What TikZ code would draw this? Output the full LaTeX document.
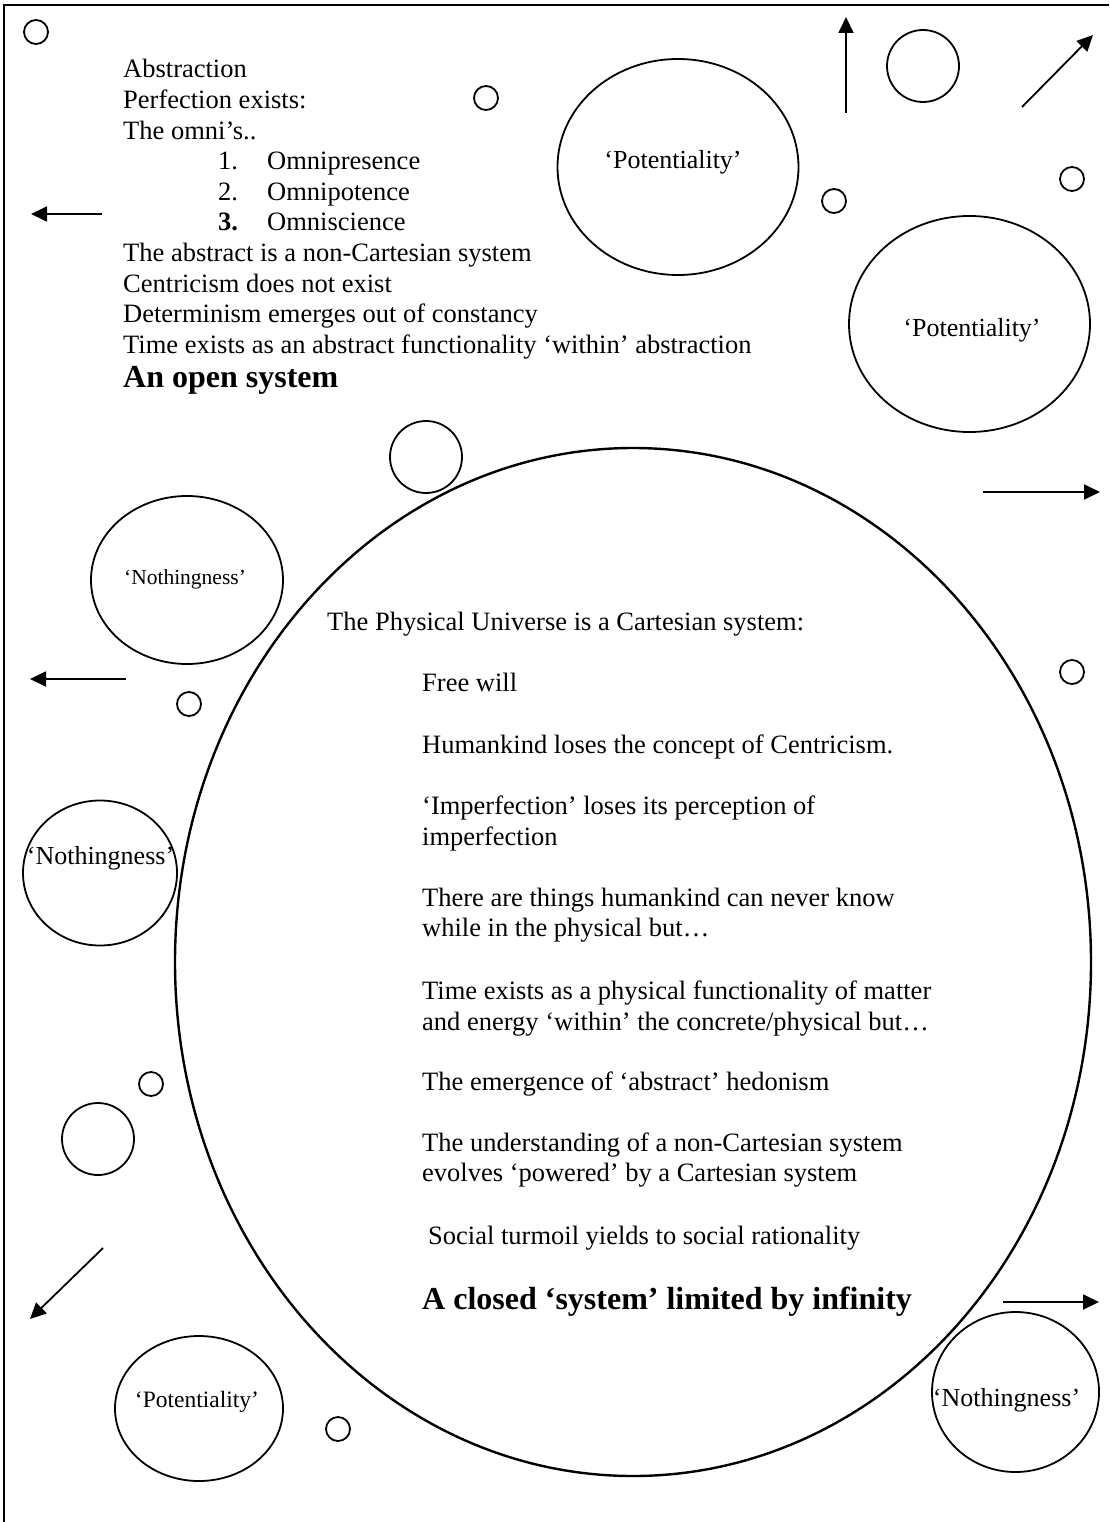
\documentclass[tikz,border=0pt]{standalone}
\usepackage{fontspec}
\setmainfont{Liberation Serif}
\usetikzlibrary{shapes.geometric,arrows.meta}
\begin{document}
\begin{tikzpicture}[x=1pt,y=-1pt,
  oval/.style={draw, ellipse, line width=1.8pt, inner sep=0pt},
  dot/.style={draw, circle, line width=1.8pt, minimum size=24pt, inner sep=0pt},
  bigdot/.style={dot, minimum size=72pt},
  arr/.style={line width=1.8pt, -{Triangle[length=16pt,width=15pt]}},
  txt/.style={anchor=base west, inner sep=0pt, font=\fontsize{26.5}{30.6}\selectfont},
  btxt/.style={anchor=base west, inner sep=0pt, font=\fontsize{32}{36}\selectfont\bfseries},
  lbl/.style={inner sep=0pt}
]
\useasboundingbox (0,0) rectangle (1109,1522);
\fill[white] (0,0) rectangle (1109,1522);
% frame
\draw[line width=2.2pt] (4,1522) -- (4,5) -- (1109,5);

% top-left text block
\node[txt] (t1) at (123,78) {Abstraction};
\node[txt] (t2) at (123,108.6) {Perfection exists:};
\node[txt] (t3) at (123,139.2) {The omni’s..};
\node[txt] (t4n) at (218,169.8) {1.};
\node[txt] (t4) at (267,169.8) {Omnipresence};
\node[txt] (t5n) at (218,200.4) {2.};
\node[txt] (t5) at (267,200.4) {Omnipotence};
\node[txt] (t6n) at (218,231) {\bfseries 3.};
\node[txt] (t6) at (267,231) {Omniscience};
\node[txt] (t7) at (123,261.6) {The abstract is a non-Cartesian system};
\node[txt] (t8) at (123,292.2) {Centricism does not exist};
\node[txt] (t9) at (123,322.8) {Determinism emerges out of constancy};
\node[txt] (t10) at (123,353.4) {Time exists as an abstract functionality ‘within’ abstraction};
\node[btxt] (t11) at (123,387) {An open system};

% big ellipse
\node[oval, line width=2.4pt, minimum width=916pt, minimum height=1028pt] (B) at (633,962) {};

% ellipses with labels
\node[oval, minimum width=241pt, minimum height=216pt] (P1) at (678,167) {};
\node[lbl, font=\fontsize{26}{30}\selectfont] (P1l) at (673,162) {‘Potentiality’};
\node[oval, minimum width=241pt, minimum height=216pt] (P2) at (969.5,324) {};
\node[lbl, font=\fontsize{26}{30}\selectfont] (P2l) at (972,330) {‘Potentiality’};
\node[oval, minimum width=192pt, minimum height=168pt] (N1) at (187,580) {};
\node[lbl, font=\fontsize{21.5}{25}\selectfont] (N1l) at (185,579) {‘Nothingness’};
\node[oval, minimum width=154pt, minimum height=145pt] (N3) at (100,873) {};
\node[lbl, font=\fontsize{26}{30}\selectfont] (N3l) at (100.5,858) {‘Nothingness’};
\node[oval, minimum width=168pt, minimum height=145pt] (P3) at (199,1408.5) {};
\node[lbl, font=\fontsize{23.5}{27}\selectfont] (P3l) at (197,1402) {‘Potentiality’};
\node[oval, minimum width=167pt, minimum height=160pt] (N2) at (1015.5,1392) {};
\node[lbl, font=\fontsize{26}{30}\selectfont] (N2l) at (1006.5,1400) {‘Nothingness’};

% circles
\node[dot] (s1) at (36,32) {};
\node[dot] (s2) at (486,98) {};
\node[dot] (s3) at (834,201) {};
\node[dot] (s4) at (1072,179) {};
\node[dot] (s5) at (189,704) {};
\node[dot] (s6) at (1072,672) {};
\node[dot] (s7) at (151,1084) {};
\node[dot] (s8) at (338,1429) {};
\node[bigdot] (b1) at (923,66) {};
\node[bigdot] (b2) at (426,457) {};
\node[bigdot] (b3) at (98,1139) {};

% arrows
\coordinate (a1s) at (102,214); \coordinate (a1e) at (31,214);
\coordinate (a2s) at (846,113); \coordinate (a2e) at (846,17);
\coordinate (a3s) at (1022,107); \coordinate (a3e) at (1093,35);
\coordinate (a4s) at (983,492); \coordinate (a4e) at (1100,492);
\coordinate (a5s) at (126,679); \coordinate (a5e) at (30,679);
\coordinate (a6s) at (103,1248); \coordinate (a6e) at (30,1319);
\coordinate (a7s) at (1003,1302); \coordinate (a7e) at (1099,1302);
\draw[arr] (a1s) -- (a1e);
\draw[arr] (a2s) -- (a2e);
\draw[arr] (a3s) -- (a3e);
\draw[arr] (a4s) -- (a4e);
\draw[arr] (a5s) -- (a5e);
\draw[arr] (a6s) -- (a6e);
\draw[arr] (a7s) -- (a7e);

% text in big ellipse
\node[txt] (u1) at (327,630) {The Physical Universe is a Cartesian system:};
\node[txt] (u2) at (422,691) {Free will};
\node[txt] (u3) at (422,753) {Humankind loses the concept of Centricism.};
\node[txt] (u4) at (422,814) {‘Imperfection’ loses its perception of};
\node[txt] (u4b) at (422,845) {imperfection};
\node[txt] (u5) at (422,906) {There are things humankind can never know};
\node[txt] (u5b) at (422,936) {while in the physical but…};
\node[txt] (u6) at (422,999) {Time exists as a physical functionality of matter};
\node[txt] (u6b) at (422,1030) {and energy ‘within’ the concrete/physical but…};
\node[txt] (u7) at (422,1090) {The emergence of ‘abstract’ hedonism};
\node[txt] (u8) at (422,1151) {The understanding of a non-Cartesian system};
\node[txt] (u8b) at (422,1181) {evolves ‘powered’ by a Cartesian system};
\node[txt] (u9) at (428,1244) {Social turmoil yields to social rationality};
\node[btxt] (u10) at (422,1309) {A closed ‘system’ limited by infinity};
\end{tikzpicture}
\end{document}
